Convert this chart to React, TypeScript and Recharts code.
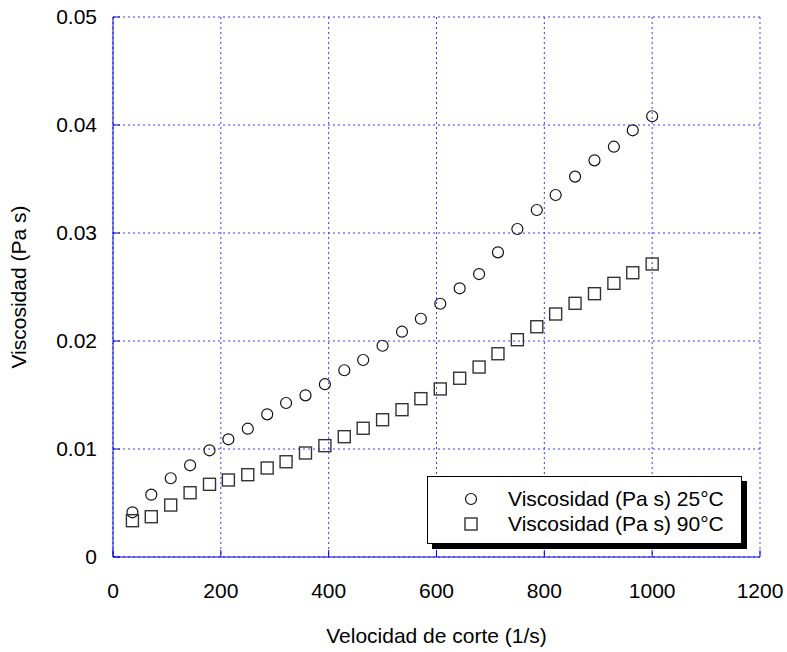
import React from "react";
import {
  ScatterChart,
  Scatter,
  XAxis,
  YAxis,
  CartesianGrid,
  Legend,
} from "recharts";

// shear rate (1/s) and measured viscosity (Pa s) at both temperatures
const shearRate = [
  36, 71, 107, 143, 179, 214, 250, 286, 321, 357, 393, 429, 464, 500, 536, 571,
  607, 643, 679, 714, 750, 786, 821, 857, 893, 929, 964, 1000,
];
const visc25 = [
  0.00414, 0.00577, 0.00729, 0.00849, 0.00988, 0.0109, 0.01188, 0.01321,
  0.01426, 0.01497, 0.016, 0.01729, 0.01824, 0.01956, 0.02086, 0.02206,
  0.02345, 0.02488, 0.0262, 0.02821, 0.03037, 0.03213, 0.03352, 0.03522,
  0.03673, 0.03799, 0.03951, 0.04081,
];
const visc90 = [
  0.00336, 0.00373, 0.00481, 0.00595, 0.00673, 0.00713, 0.00762, 0.00824,
  0.00882, 0.00963, 0.01031, 0.01114, 0.01192, 0.01271, 0.01364, 0.01466,
  0.01556, 0.01655, 0.01759, 0.01882, 0.02012, 0.02132, 0.0225, 0.02349,
  0.02438, 0.02534, 0.02632, 0.02713,
];
const xTicks = [0, 200, 400, 600, 800, 1000, 1200];
const yTicks = [0, 0.01, 0.02, 0.03, 0.04, 0.05];
const seriesNames = ["Viscosidad (Pa s) 25°C", "Viscosidad (Pa s) 90°C"];

const FONT = "'Liberation Sans', Arial, Helvetica, sans-serif";
const FRAME = "#0000dd";
const GRID = "#3a3aff";

const data25 = shearRate.map((x, i) => ({ x, y: visc25[i] }));
const data90 = shearRate.map((x, i) => ({ x, y: visc90[i] }));

const Circle = (p: any) => (
  <circle cx={p.cx} cy={p.cy} r={5.5} fill="none" stroke="#111" strokeWidth={1.2} />
);
const Square = (p: any) => (
  <rect x={p.cx - 6} y={p.cy - 6} width={12} height={12} fill="none" stroke="#333" strokeWidth={1.4} />
);

function LegendBox() {
  const rows = [
    { name: seriesNames[0], marker: <circle cx={8} cy={8} r={5.5} fill="none" stroke="#111" strokeWidth={1.2} /> },
    { name: seriesNames[1], marker: <rect x={2} y={2} width={12} height={12} fill="none" stroke="#333" strokeWidth={1.4} /> },
  ];
  return (
    <div
      style={{
        position: "relative",
        width: 315,
        height: 68,
        boxSizing: "border-box",
        border: "1.5px solid #000",
        background: "#fff",
        boxShadow: "5px 5px 0 #000",
        fontFamily: FONT,
        fontSize: 21,
        color: "#000",
      }}
    >
      {rows.map((r, i) => (
        <div key={r.name} style={{ position: "absolute", left: 0, top: 22 + i * 25 - 12, height: 24, width: "100%" }}>
          <svg width={16} height={16} style={{ position: "absolute", left: 35, top: 4 }}>
            {r.marker}
          </svg>
          <span style={{ position: "absolute", left: 80, top: 0, lineHeight: "24px", whiteSpace: "nowrap" }}>
            {r.name}
          </span>
        </div>
      ))}
    </div>
  );
}

export default function App() {
  const tickStyle = { fill: "#000", fontSize: 21, fontFamily: FONT };
  return (
    <div style={{ position: "absolute", left: 0, top: 0, background: "#fff" }}>
      <ScatterChart width={787} height={652} margin={{ top: 17, right: 27, bottom: 0, left: 0 }}>
        <CartesianGrid stroke={GRID} strokeDasharray="2 3" />
        <XAxis
          dataKey="x"
          type="number"
          domain={[0, 1200]}
          ticks={xTicks}
          height={95}
          stroke={FRAME}
          tickSize={-7}
          tickMargin={33}
          tick={tickStyle}
          label={{
            value: "Velocidad de corte (1/s)",
            position: "center",
            dy: 31,
            fill: "#000",
            fontSize: 21,
            fontFamily: FONT,
          }}
        />
        <XAxis
          xAxisId="top"
          orientation="top"
          type="number"
          domain={[0, 1200]}
          ticks={xTicks}
          height={0}
          stroke={FRAME}
          mirror
          tickSize={7}
          tick={false}
        />
        <YAxis
          dataKey="y"
          type="number"
          domain={[0, 0.05]}
          ticks={yTicks}
          width={113}
          stroke={FRAME}
          tickSize={-7}
          tickMargin={23}
          tick={tickStyle}
          tickFormatter={(v: number) => (v === 0 ? "0" : v.toFixed(2))}
          label={{
            value: "Viscosidad (Pa s)",
            angle: -90,
            position: "center",
            dx: -38,
            fill: "#000",
            fontSize: 21,
            fontFamily: FONT,
          }}
        />
        <YAxis
          yAxisId="right"
          orientation="right"
          type="number"
          domain={[0, 0.05]}
          ticks={yTicks}
          width={0}
          stroke={FRAME}
          mirror
          tickSize={7}
          tick={false}
        />
        <Legend
          layout="horizontal"
          align="center"
          verticalAlign="middle"
          wrapperStyle={{ left: 427, top: 476, width: 315, height: 68 }}
          content={() => <LegendBox />}
        />
        <Scatter name={seriesNames[0]} data={data25} shape={Circle} isAnimationActive={false} />
        <Scatter name={seriesNames[1]} data={data90} shape={Square} isAnimationActive={false} />
      </ScatterChart>
    </div>
  );
}
